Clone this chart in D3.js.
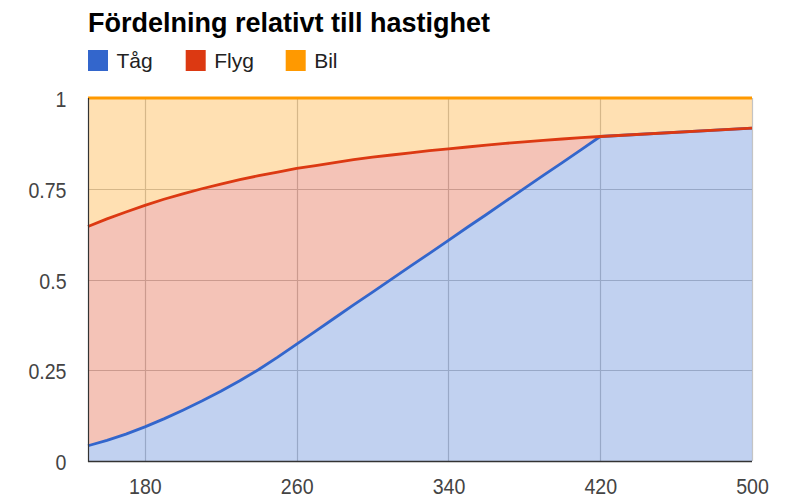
<!DOCTYPE html>
<html>
<head>
<meta charset="utf-8">
<script src="https://cdn.jsdelivr.net/npm/d3@7"></script>
<style>
  html, body { margin: 0; padding: 0; background: #fff; }
  svg { display: block; }
  text { font-family: Arial, "Liberation Sans", sans-serif; }
</style>
</head>
<body>
<svg id="chart" width="790" height="497"></svg>
<script>
const title = "Fördelning relativt till hastighet";
const seriesNames = ["Tåg", "Flyg", "Bil"];
const seriesColors = ["#3366cc", "#dc3912", "#ff9900"];

const hastighet = [150,160,170,180,190,200,210,220,230,240,250,260,270,280,290,300,310,320,330,340,350,360,370,380,390,400,410,420,500];
const tag  = [0.042,0.057,0.074,0.094,0.116,0.140,0.165,0.192,0.221,0.252,0.286,0.322,0.358,0.394,0.430,0.465,0.501,0.537,0.572,0.608,0.644,0.679,0.715,0.751,0.787,0.822,0.858,0.894,0.917];
const flyg = [0.604,0.610,0.612,0.610,0.605,0.596,0.585,0.571,0.554,0.534,0.510,0.484,0.456,0.428,0.400,0.372,0.342,0.312,0.283,0.252,0.221,0.191,0.160,0.128,0.096,0.065,0.033,0.000,0.000];
const bil  = [0.354,0.333,0.314,0.296,0.279,0.264,0.250,0.237,0.225,0.214,0.204,0.194,0.186,0.178,0.170,0.163,0.157,0.151,0.145,0.140,0.135,0.130,0.125,0.121,0.117,0.113,0.109,0.106,0.083];

const xTicks = [180, 260, 340, 420, 500];
const yTicks = [0, 0.25, 0.5, 0.75, 1];

const rows = hastighet.map((h, i) => ({ h, "Tåg": tag[i], "Flyg": flyg[i], "Bil": bil[i] }));

const svg = d3.select("#chart");
const plot = { left: 88, right: 752, top: 98, bottom: 461 };

const x = d3.scaleLinear().domain([150, 500]).range([plot.left, plot.right]);
const y = d3.scaleLinear().domain([0, 1]).range([plot.bottom, plot.top]);

const stack = d3.stack().keys(seriesNames);
const stacked = stack(rows);

// gridlines
const grid = svg.append("g");
grid.selectAll("line.v").data(xTicks).join("line")
  .attr("x1", d => Math.round(x(d)) + 0.5).attr("x2", d => Math.round(x(d)) + 0.5)
  .attr("y1", plot.top).attr("y2", plot.bottom)
  .attr("stroke", "#c4c4c4").attr("stroke-width", 1.2);
grid.selectAll("line.h").data(yTicks.filter(d => d > 0)).join("line")
  .attr("x1", plot.left).attr("x2", plot.right)
  .attr("y1", d => Math.round(y(d)) + 0.5).attr("y2", d => Math.round(y(d)) + 0.5)
  .attr("stroke", "#c4c4c4").attr("stroke-width", 1.2);

// areas
const area = d3.area().x(d => x(d.data.h)).y0(d => y(d[0])).y1(d => y(d[1]));
svg.append("g").selectAll("path").data(stacked).join("path")
  .attr("d", area)
  .attr("fill", (d, i) => seriesColors[i])
  .attr("fill-opacity", 0.3);

// lines
const line = d3.line().x(d => x(d.data.h)).y(d => y(d[1]));
svg.append("g").selectAll("path").data(stacked).join("path")
  .attr("d", line)
  .attr("fill", "none")
  .attr("stroke", (d, i) => seriesColors[i])
  .attr("stroke-width", 2.8)
  .attr("stroke-linejoin", "round");

// axes
const yAxis = d3.axisLeft(y).tickValues(yTicks).tickSize(0).tickPadding(21.5).tickFormat(d => String(d));
const gy = svg.append("g").attr("transform", `translate(${plot.left},0)`).call(yAxis);
gy.select(".domain").remove();
gy.selectAll("text").attr("dy", "0.4em").attr("font-size", "21.5px").attr("fill", "#444")
  .attr("font-family", "Arial, 'Liberation Sans', sans-serif");

const xAxis = d3.axisBottom(x).tickValues(xTicks).tickSize(0).tickFormat(d => String(d));
const gx = svg.append("g").attr("transform", `translate(0,${plot.bottom})`).call(xAxis);
gx.select(".domain").remove();
gx.selectAll("text").attr("y", 32.5).attr("dy", 0).attr("font-size", "21.5px").attr("fill", "#444")
  .attr("font-family", "Arial, 'Liberation Sans', sans-serif");

// condense tick labels slightly
svg.selectAll(".tick text").each(function() {
  const w = this.getComputedTextLength();
  d3.select(this).attr("textLength", w * 0.91).attr("lengthAdjust", "spacingAndGlyphs");
});

// axis lines
svg.append("line").attr("x1", plot.left + 0.5).attr("x2", plot.left + 0.5)
  .attr("y1", plot.top).attr("y2", plot.bottom + 1).attr("stroke", "#333").attr("stroke-width", 1.2);
svg.append("line").attr("x1", plot.left).attr("x2", plot.right)
  .attr("y1", plot.bottom + 0.5).attr("y2", plot.bottom + 0.5).attr("stroke", "#333").attr("stroke-width", 1.5);

// title
svg.append("text").attr("x", 88).attr("y", 32)
  .attr("font-size", "27px").attr("font-weight", "bold").attr("fill", "#000")
  .text(title);

// legend
const legendX = [88, 185.7, 285.7];
const lg = svg.append("g").selectAll("g").data(seriesNames).join("g")
  .attr("transform", (d, i) => `translate(${legendX[i]},0)`);
lg.append("rect").attr("x", 0).attr("y", 50).attr("width", 20).attr("height", 21)
  .attr("fill", (d, i) => seriesColors[i]);
lg.append("text").attr("x", 28.5).attr("y", 68.3).attr("font-size", "21px").attr("fill", "#222")
  .text(d => d);
</script>
</body>
</html>
